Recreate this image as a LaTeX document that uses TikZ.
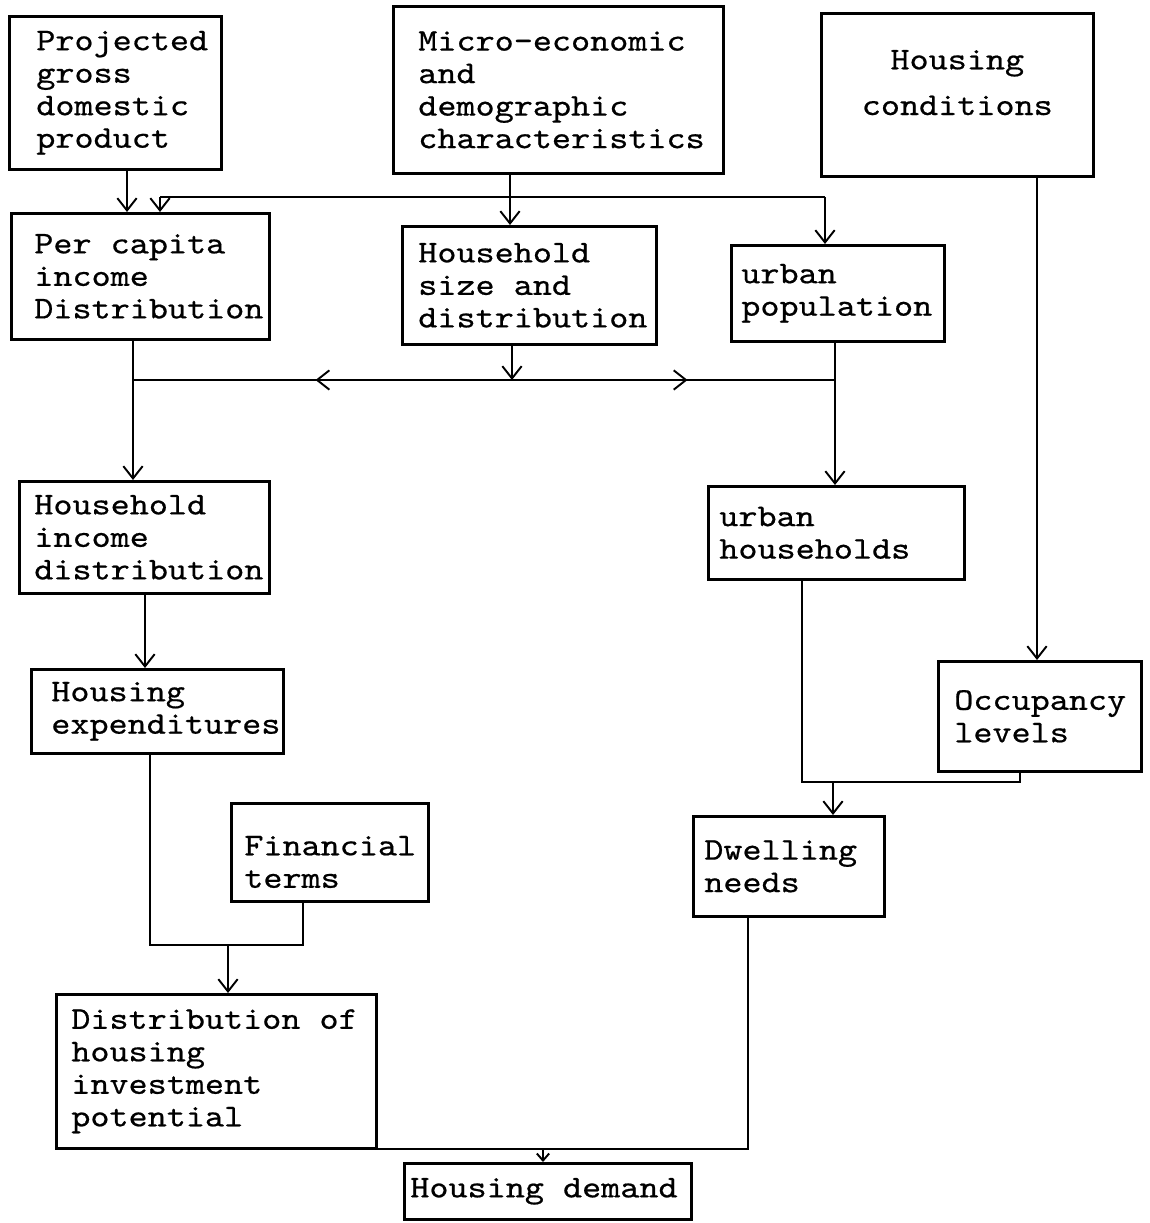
\documentclass[tikz,border=0pt]{standalone}
\usepackage{fontspec}
\newfontfamily\typewriter{lmmono10-regular.otf}[FakeStretch=1.15,FakeBold=0.6]
\usetikzlibrary{arrows.meta}
\usetikzlibrary{decorations.markings}
\tikzstyle{block} = [rectangle, draw, line width=1.5pt, anchor=north west,
    align=left, inner ysep=2pt, font={\fontsize{18}{18.5}\typewriter},
    execute at begin node={\spaceskip=10.87pt\relax}]
\tikzstyle{line} = [draw, line width=1.1pt, -{Straight Barb[length=7pt,width=11pt]}]
\tikzstyle{link} = [draw, line width=1.1pt]

\begin{document}
\begin{tikzpicture}[x=0.02cm,y=-0.02cm]
    \useasboundingbox (0,0) rectangle (1149,1223);
    % Place nodes
    \node[block, minimum width=4.24cm, minimum height=3.06cm, text width=3.16cm, inner xsep=0.54cm] (gdp) at (8,15) {Projected\\gross\\domestic\\product};
    \node[block, minimum width=6.6cm, minimum height=3.34cm, text width=5.6cm, inner xsep=0.5cm] (micro) at (392,5) {Micro-economic\\and\\demographic\\characteristics};
    \node[block, align=center, minimum width=5.44cm, minimum height=3.26cm, text width=4.64cm, inner xsep=0.4cm,
        font={\fontsize{18}{26}\typewriter}, text depth=40pt] (cond) at (820,12) {Housing\\conditions};
    \node[block, minimum width=5.16cm, minimum height=2.52cm, text width=4.24cm, inner xsep=0.46cm] (capita) at (10,212) {Per capita\\income\\Distribution};
    \node[block, minimum width=5.08cm, minimum height=2.36cm, text width=4.44cm, inner xsep=0.32cm] (hhsize) at (401,225) {Household\\size and\\distribution};
    \node[block, minimum width=4.26cm, minimum height=1.92cm, text width=3.86cm, inner xsep=0.2cm] (urbpop) at (730,244) {urban\\population};
    \node[block, minimum width=5.0cm, minimum height=2.24cm, text width=4.4cm, inner xsep=0.3cm] (hhinc) at (18,480) {Household\\income\\distribution};
    \node[block, minimum width=5.12cm, minimum height=1.86cm, text width=4.68cm, inner xsep=0.22cm] (urbhh) at (707,485) {urban\\households};
    \node[block, minimum width=5.04cm, minimum height=1.68cm, text width=4.24cm, inner xsep=0.4cm] (hexp) at (30,668) {Housing\\expenditures};
    \node[block, minimum width=4.06cm, minimum height=2.2cm, text width=3.42cm, inner xsep=0.32cm] (occup) at (937,660) {Occupancy\\levels};
    \node[block, minimum width=3.94cm, minimum height=1.96cm, text width=3.42cm, inner xsep=0.26cm, text height=22pt] (fin) at (230,802) {Financial\\terms};
    \node[block, minimum width=3.82cm, minimum height=2.0cm, text width=3.38cm, inner xsep=0.22cm] (dwell) at (692,815) {Dwelling\\needs};
    \node[block, minimum width=6.4cm, minimum height=3.08cm, text width=5.8cm, inner xsep=0.3cm] (invest) at (55,993) {Distribution of\\housing\\investment\\potential};
    \node[block, minimum width=5.74cm, minimum height=1.12cm, text width=5.5cm, inner xsep=0.12cm] (demand) at (403,1162) {Housing demand};
    % Junctions
    \coordinate (topl) at (160,197);
    \coordinate (topr) at (825,197);
    \coordinate (midl) at (133,380);
    \coordinate (midc) at (512,380);
    \coordinate (midr) at (835,380);
    \coordinate (lowl) at (150,945);
    \coordinate (lowc) at (228,945);
    \coordinate (lowr) at (303,945);
    \coordinate (rgtl) at (802,782);
    \coordinate (rgtc) at (833,782);
    \coordinate (rgtr) at (1020,782);
    \coordinate (botl) at (233,1149);
    \coordinate (botc) at (543,1149);
    \coordinate (botr) at (748,1149);
    % Draw edges
    \path [line] (127,0 |- gdp.south) -- (127,0 |- capita.north);
    \path [line] (510,0 |- micro.south) -- (510,0 |- hhsize.north);
    \path [link] (topl) -- (topr);
    \path [line] (topl) -- (topl |- capita.north);
    \path [line] (topr) -- (topr |- urbpop.north);
    \path [line] (midc |- hhsize.south) -- (midc);
    \path [link, postaction={decorate}, decoration={markings,
        mark=at position 0.26 with {\arrowreversed{Straight Barb[length=7pt,width=11pt]}},
        mark=at position 0.79 with {\arrow{Straight Barb[length=7pt,width=11pt]}}}] (midl) -- (midr);
    \path [line] (midl |- capita.south) -- (midl |- hhinc.north);
    \path [line] (midr |- urbpop.south) -- (midr |- urbhh.north);
    \path [line] (1037,0 |- cond.south) -- (1037,0 |- occup.north);
    \path [line] (145,0 |- hhinc.south) -- (145,0 |- hexp.north);
    \path [link] (lowl |- hexp.south) -- (lowl) -- (lowr) -- (lowr |- fin.south);
    \path [line] (lowc) -- (lowc |- invest.north);
    \path [link] (rgtl |- urbhh.south) -- (rgtl) -- (rgtr) -- (rgtr |- occup.south);
    \path [line] (rgtc) -- (rgtc |- dwell.north);
    \path [link] (botl |- invest.south) -- (botl) -- (botr) -- (botr |- dwell.south);
    \path [draw, line width=1.1pt, -{Straight Barb[length=4pt,width=7pt]}] (botc) -- (botc |- demand.north);
\end{tikzpicture}
\end{document}
